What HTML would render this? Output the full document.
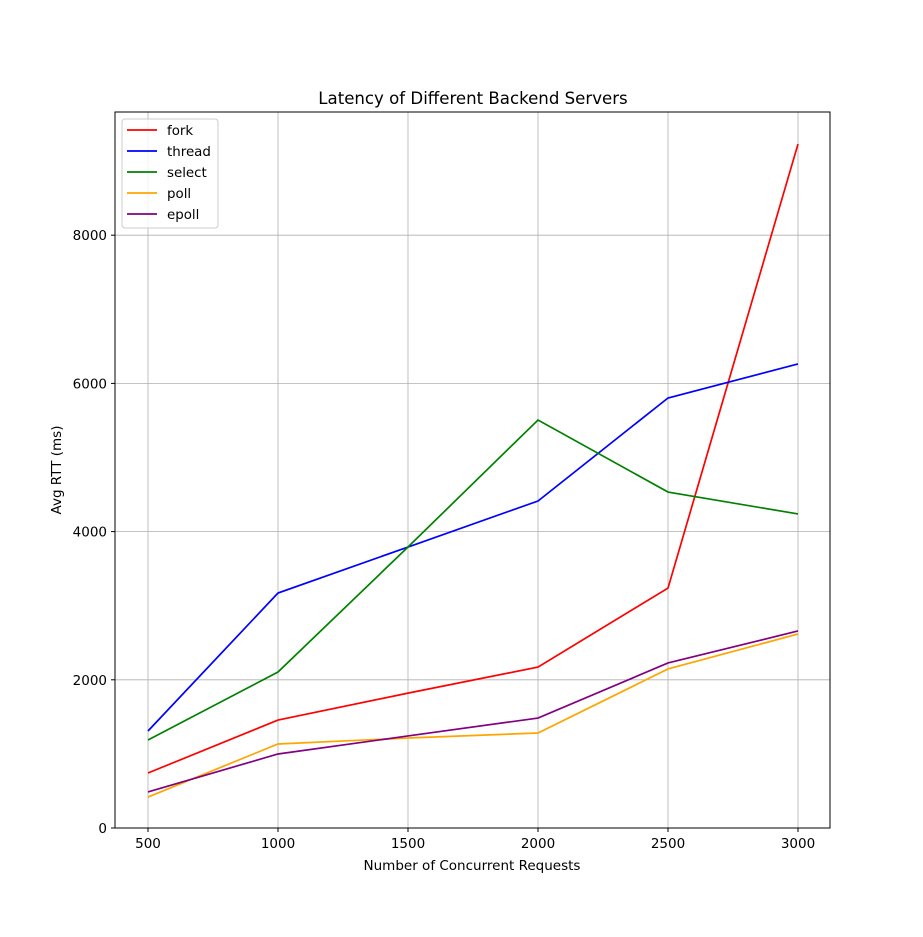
<!DOCTYPE html>
<html><head><meta charset="utf-8"><style>
body{margin:0;background:#fff}
svg text{font-family:"DejaVu Sans","Liberation Sans",sans-serif;fill:#000}
</style></head><body>
<svg id="chart" width="923" height="932">
<rect width="923" height="932" fill="#fff"/>
<text x="473" y="104" font-size="16.6" text-anchor="middle">Latency of Different Backend Servers</text>
<g id="grid"></g>
<g id="lines"></g>
<rect x="115" y="112" width="715" height="716" fill="none" stroke="#000" stroke-width="1"/>
<g id="ticks"></g>
<text x="472" y="870" font-size="13.5" text-anchor="middle">Number of Concurrent Requests</text>
<text transform="translate(61,470) rotate(-90)" font-size="13.5" text-anchor="middle">Avg RTT (ms)</text>
<g id="legend"></g>
</svg>
<script>
const categories=[500,1000,1500,2000,2500,3000];
const forkVals=[742,1457,1820,2172,3238,9230];
const threadVals=[1309,3171,3792,4413,5803,6262];
const selectVals=[1188,2105,3792,5506,4534,4238];
const pollVals=[418,1134,1215,1282,2146,2618];
const epollVals=[486,999,1242,1484,2227,2659];
const xTicks=[500,1000,1500,2000,2500,3000];
const yTicks=[0,2000,4000,6000,8000];
const seriesNames=["fork","thread","select","poll","epoll"];
const seriesColors=["red","blue","green","orange","purple"];
const seriesVals=[forkVals,threadVals,selectVals,pollVals,epollVals];
const NS="http://www.w3.org/2000/svg";
function xs(v){return 148+(v-500)*0.26;}
function ys(v){return 828-v*0.0741;}
function mk(t,a,p){const e=document.createElementNS(NS,t);for(const k in a)e.setAttribute(k,a[k]);p.appendChild(e);return e;}
const grid=document.getElementById('grid'),ticks=document.getElementById('ticks'),lines=document.getElementById('lines'),legend=document.getElementById('legend');
xTicks.forEach(v=>{const x=xs(v);
const g=mk('line',{x1:x,x2:x,y1:112,y2:828,stroke:'#b0b0b0','stroke-width':0.8},grid);


mk('line',{x1:x,x2:x,y1:828,y2:832,stroke:'#000'},ticks);
const t=mk('text',{x:x,y:848,'font-size':13.5,'text-anchor':'middle'},ticks);t.textContent=v;


});
yTicks.forEach(v=>{const y=ys(v);
const g=mk('line',{x1:115,x2:830,y1:y,y2:y,stroke:'#b0b0b0','stroke-width':0.8},grid);


mk('line',{x1:111,x2:115,y1:y,y2:y,stroke:'#000'},ticks);
const t=mk('text',{x:107,y:y+5,'font-size':13.5,'text-anchor':'end'},ticks);t.textContent=v;


});
seriesVals.forEach((vals,i)=>{
const pts=vals.map((v,j)=>xs(categories[j])+','+ys(v)).join(' ');
const l=mk('polyline',{points:pts,fill:'none',stroke:seriesColors[i],'stroke-width':1.7},lines);


});
const box=mk('rect',{x:122,y:119,width:96,height:109,rx:3,fill:'#fff','fill-opacity':0.8,stroke:'#ccc'},legend);


seriesNames.forEach((n,i)=>{const y=130+i*21;
mk('line',{x1:127,x2:157,y1:y,y2:y,stroke:seriesColors[i],'stroke-width':1.7},legend);
const t=mk('text',{x:167,y:y+5,'font-size':13.4},legend);t.textContent=n;


});
</script>
</body></html>
